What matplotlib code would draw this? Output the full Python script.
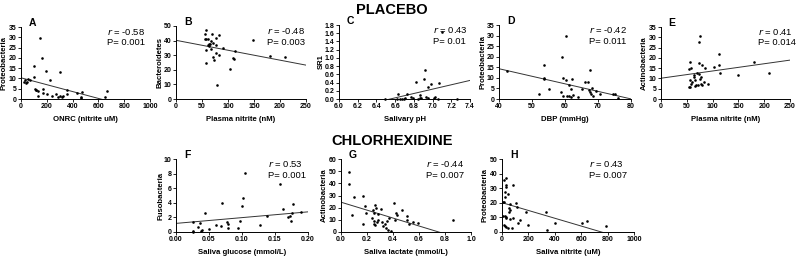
import matplotlib
matplotlib.use("Agg")
import matplotlib.pyplot as plt
import numpy as np

plt.rcParams['font.family'] = ['Liberation Sans', 'DejaVu Sans']

# ---------------- data ----------------
# Panel A: ONRC (nitrite uM) vs Proteobacteria
a_x = [20, 30, 40, 45, 55, 70, 103, 103, 108, 113, 118, 128, 133, 149, 162, 167, 174, 192, 205, 226,
       244, 269, 287, 303, 303, 315, 328, 354, 359, 431, 462, 467, 469, 649, 667]
a_y = [8.2, 9.0, 7.8, 8.5, 9.6, 9.2, 16.2, 10.6, 4.8, 4.2, 4.3, 1.4, 3.7, 29.7, 19.9, 3.0, 5.1, 13.8, 2.4,
       9.3, 1.6, 2.4, 1.1, 13.2, 1.6, 1.0, 1.4, 2.2, 4.2, 2.7, 1.1, 0.6, 3.5, 1.0, 3.9]
a_line = (10.3, -0.0167)

# Panel B: Plasma nitrite (nM) vs Bacteroidetes
b_x = [57, 55, 70, 82, 77, 55, 58, 62, 67, 63, 66, 64, 62, 71, 76, 57, 68, 77, 82, 72, 74, 90, 114,
       57, 109, 112, 103, 79, 149, 180, 209]
b_y = [47.3, 44.5, 44.5, 43.9, 41.6, 40.9, 40.9, 40.9, 40.0, 37.5, 37.5, 36.4, 36.8, 38.2, 37.0,
       33.6, 34.1, 31.4, 30.2, 28.6, 26.4, 34.8, 33.2, 25.0, 28.0, 27.3, 20.5, 9.5, 40.5, 29.3, 28.8]
b_line = (40.2, -0.068)

# Panel C: Salivary pH vs SR1
c_x = [6.49, 6.62, 6.65, 6.67, 6.63, 6.71, 6.73, 6.77, 6.79, 6.82, 6.87, 6.88, 6.87, 6.91, 6.92,
       6.93, 6.95, 6.98, 7.02, 7.03, 7.07, 7.06, 7.26, 6.69, 6.84, 6.95, 7.10]
c_y = [0.01, 0.0, 0.0, 0.0, 0.13, 0.02, 0.12, 0.06, 0.02, 0.41, 0.02, 0.02, 0.10, 0.49, 0.70,
       0.06, 0.29, 0.36, 0.02, 0.04, 0.39, 0.01, 0.01, 0.0, 0.0, 0.02, 1.62]
c_line = (-3.47, 0.53)

# Panel D: DBP (mmHg) vs Proteobacteria
d_x = [42.5, 53.6, 53.6, 53.6, 52.2, 55.1, 59.0, 60.3, 59.5, 60.3, 58.7, 59.5, 60.5, 61.2, 61.7,
       61.8, 62.1, 61.3, 62.5, 63.9, 65.2, 66.2, 67.0, 67.6, 67.2, 67.6, 68.0, 68.6, 68.3, 69.4,
       70.7, 74.5, 75.1, 76.2]
d_y = [13.2, 16.1, 10.1, 9.3, 2.6, 4.5, 19.7, 29.7, 10.1, 9.0, 3.4, 1.4, 1.4, 1.4, 0.8, 4.8, 9.3,
       6.4, 1.9, 1.1, 4.5, 8.0, 8.0, 13.8, 4.2, 3.4, 2.6, 1.6, 5.1, 3.7, 2.6, 2.6, 2.4, 0.5]
d_line = (28.6, -0.357)

# Panel E: Plasma nitrite (nM) vs Actinobacteria
e_x = [57, 58, 55, 75, 74, 73, 79, 86, 70, 73, 63, 64, 66, 57, 61, 59, 56, 55, 66, 68, 72, 75,
       78, 83, 78, 79, 92, 102, 112, 113, 115, 149, 180, 209]
e_y = [18.0, 15.2, 14.5, 30.8, 27.5, 17.7, 16.5, 15.0, 12.8, 12.2, 11.7, 10.9, 9.3, 9.3, 8.5,
       7.4, 6.0, 5.8, 6.4, 6.9, 7.0, 9.6, 10.6, 8.5, 7.4, 6.7, 7.2, 15.7, 21.8, 16.5, 12.8, 11.7,
       18.1, 12.7]
e_line = (10.1, 0.0352)

# Panel F: Saliva glucose (mmol/L) vs Fusobacteria
f_x = [0.025, 0.025, 0.025, 0.033, 0.036, 0.038, 0.040, 0.044, 0.050, 0.060, 0.068, 0.070, 0.078,
       0.079, 0.079, 0.094, 0.097, 0.100, 0.102, 0.104, 0.128, 0.138, 0.157, 0.162, 0.169, 0.172,
       0.174, 0.175, 0.178, 0.189]
f_y = [1.36, 0.18, 0.0, 0.63, 1.22, 0.09, 0.23, 2.6, 0.4, 0.9, 0.86, 3.94, 1.36, 1.09, 0.54, 0.54,
       1.45, 3.53, 4.7, 8.1, 1.0, 2.26, 6.6, 3.12, 2.0, 2.26, 1.54, 2.58, 3.85, 2.8]
f_line = (1.18, 7.9)

# Panel G: Saliva lactate (mmol/L) vs Actinobacteria
g_x = [0.059, 0.064, 0.084, 0.102, 0.173, 0.186, 0.194, 0.173, 0.245, 0.255, 0.263, 0.270, 0.237,
       0.250, 0.255, 0.263, 0.275, 0.288, 0.286, 0.313, 0.326, 0.344, 0.339, 0.352, 0.306, 0.372,
       0.365, 0.385, 0.408, 0.420, 0.431, 0.416, 0.467, 0.505, 0.510, 0.525, 0.551, 0.594, 0.860]
g_y = [49.2, 39.4, 13.6, 29.0, 29.6, 21.5, 16.0, 6.5, 18.2, 15.5, 22.3, 20.1, 11.4, 9.2, 6.5, 5.4,
       7.9, 9.5, 14.7, 7.9, 4.6, 3.3, 6.5, 8.7, 18.8, 11.4, 1.6, 0.5, 23.6, 15.5, 14.1, 10.0, 18.2,
       10.0, 12.8, 6.5, 7.9, 7.0, 9.8]
g_line = (24.5, -32.6)

# Panel H: Saliva nitrite (uM) vs Proteobacteria
h_x = [13, 33, 28, 33, 23, 45, 20, 15, 8, 58, 83, 104, 114, 53, 58, 53, 8, 20, 28, 33, 13, 20, 33,
       45, 58, 83, 78, 121, 139, 179, 197, 336, 343, 399, 608, 644, 785]
h_y = [35.3, 36.7, 32.0, 31.0, 27.6, 26.0, 24.2, 20.8, 20.4, 19.0, 32.0, 19.7, 17.4, 16.7, 15.2,
       13.6, 11.3, 10.9, 10.2, 9.5, 4.8, 4.3, 3.6, 2.9, 9.0, 9.5, 2.7, 6.1, 8.4, 13.6, 5.0, 13.6,
       1.4, 6.3, 6.3, 7.2, 4.3]
h_line = (20.1, -0.0267)

# ---------------- figure ----------------
W, H = 798, 257
fig = plt.figure(figsize=(W / 100, H / 100), dpi=100)

def px_axes(x0, x1, ytop, ybot):
    return fig.add_axes([x0 / W, 1 - ybot / H, (x1 - x0) / W, (ybot - ytop) / H])

panels = [
    # letter, x, y, line, xlim, xticks, xfmt, ylim, yticks, yfmt, xlabel, ylabel, r, p, box(px), textx, ylabel offset px
    ("A", a_x, a_y, a_line, (0, 1000), np.arange(0, 1001, 200), "{:.0f}", (0, 35), np.arange(0, 36, 5), "{:.0f}",
     "ONRC (nitrite uM)", "Proteobacteria", "-0.58", "0.001", (21, 150, 27, 99), 0.67, 16.5),
    ("B", b_x, b_y, b_line, (0, 250), np.arange(0, 251, 50), "{:.0f}", (0, 50), np.arange(0, 51, 10), "{:.0f}",
     "Plasma nitrite (nM)", "Bacteroidetes", "-0.48", "0.003", (176, 306, 26, 99), 0.70, 16),
    ("C", c_x, c_y, c_line, (6.0, 7.4), np.arange(6.0, 7.41, 0.2), "{:.1f}", (0, 1.8), np.arange(0, 1.81, 0.2), "{:.1f}",
     "Salivary pH", "SR1", "0.43", "0.01", (339, 470, 25, 99), 0.72, 18),
    ("D", d_x, d_y, d_line, (40, 80), np.arange(40, 81, 10), "{:.0f}", (0, 35), np.arange(0, 36, 5), "{:.0f}",
     "DBP (mmHg)", "Proteobacteria", "-0.42", "0.011", (499, 631, 25, 99), 0.68, 16),
    ("E", e_x, e_y, e_line, (0, 250), np.arange(0, 251, 50), "{:.0f}", (0, 35), np.arange(0, 36, 5), "{:.0f}",
     "Plasma nitrite (nM)", "Actinobacteria", "0.41", "0.014", (661, 790, 27, 99), 0.75, 17),
    ("F", f_x, f_y, f_line, (0, 0.2), np.arange(0, 0.201, 0.05), "{:.2f}", (0, 10), np.arange(0, 11, 2), "{:.0f}",
     "Saliva glucose (mmol/L)", "Fusobacteria", "0.53", "0.001", (176, 308, 159, 232), 0.70, 15),
    ("G", g_x, g_y, g_line, (0, 1.0), np.arange(0, 1.01, 0.2), "{:.1f}", (0, 60), np.arange(0, 61, 10), "{:.0f}",
     "Saliva lactate (mmol/L)", "Actinobacteria", "-0.44", "0.007", (341, 471, 159, 232), 0.65, 17),
    ("H", h_x, h_y, h_line, (0, 1000), np.arange(0, 1001, 200), "{:.0f}", (0, 50), np.arange(0, 51, 10), "{:.0f}",
     "Saliva nitrite (uM)", "Proteobacteria", "0.43", "0.007", (502, 634, 159, 232), 0.66, 17),
]

tick_fs = 5.0
lab_fs = 5.6
for (letter, xs, ys, line, xlim, xt, xf, ylim, yt, yf, xl, yl, r, p, box, tx, yoff) in panels:
    ax = px_axes(*box)
    ax.scatter(xs, ys, s=3.5, c="black", linewidths=0, zorder=3, clip_on=False)
    lx = np.linspace(xlim[0], xlim[1], 200)
    ly = line[0] + line[1] * lx
    ax.plot(lx, ly, color="#333333", lw=0.7, zorder=2)
    ax.set_xlim(*xlim)
    ax.set_ylim(*ylim)
    ax.set_xticks(xt)
    ax.set_yticks(yt)
    ax.set_xticklabels([xf.format(v) for v in xt], fontsize=tick_fs, fontweight="bold")
    ax.set_yticklabels([yf.format(v) for v in yt], fontsize=tick_fs, fontweight="bold")
    ax.tick_params(axis="both", direction="out", length=2, width=0.6, pad=1.2, colors="black")
    ax.set_xlabel(xl, fontsize=lab_fs, fontweight="bold", labelpad=4)
    ax.set_ylabel(yl, fontsize=lab_fs, fontweight="bold")
    axw = box[1] - box[0]
    ax.yaxis.set_label_coords(-yoff / axw, 0.5)
    ax.yaxis.label.set_va("center")
    for s in ("top", "right"):
        ax.spines[s].set_visible(False)
    for s in ("left", "bottom"):
        ax.spines[s].set_linewidth(0.7)
        ax.spines[s].set_color("black")
    ax.patch.set_alpha(0)
    ax.text(0.06, 1.05, letter, transform=ax.transAxes, fontsize=7.5, fontweight="bold",
            ha="left", va="center")
    ax.text(tx, 0.93, r"$\it{r}$ = " + r, transform=ax.transAxes, fontsize=6.8, ha="left", va="center")
    ax.text(tx, 0.78, "P= " + p, transform=ax.transAxes, fontsize=6.8, ha="left", va="center")

fig.text(392 / W, 1 - 10 / H, "PLACEBO", fontsize=10.5, fontweight="bold", ha="center", va="center")
fig.text(392 / W, 1 - 141 / H, "CHLORHEXIDINE", fontsize=10.5, fontweight="bold", ha="center", va="center")

fig.savefig("out.png", dpi=100)
